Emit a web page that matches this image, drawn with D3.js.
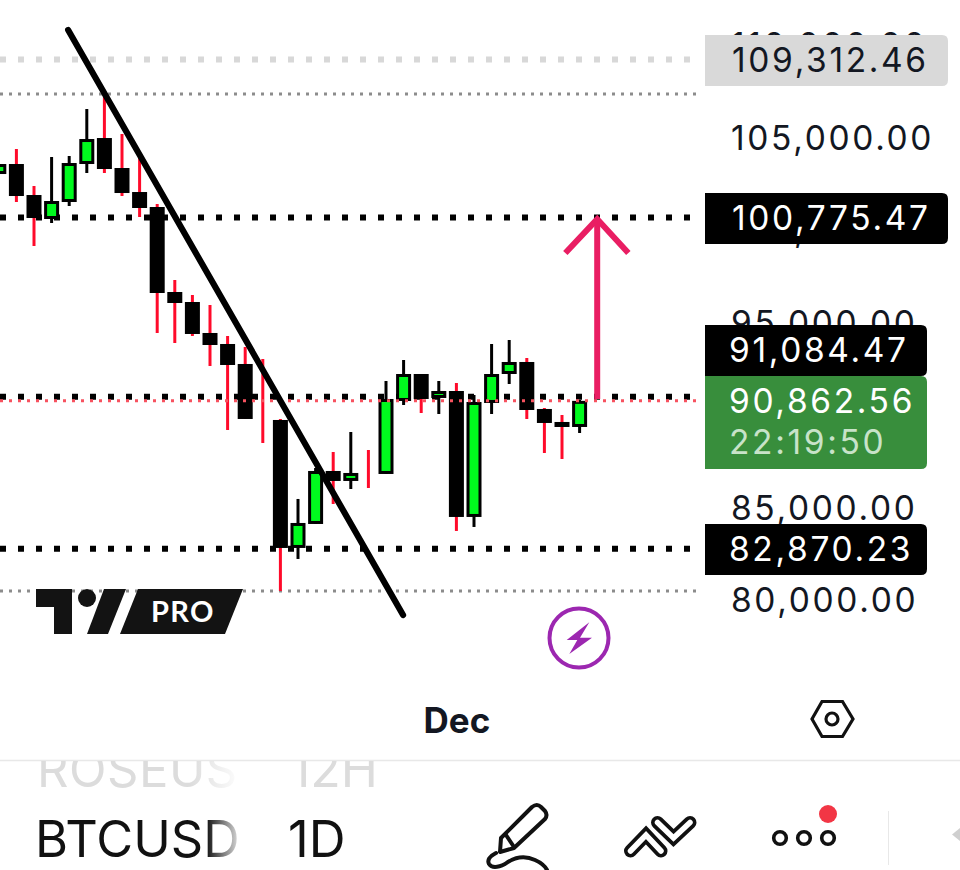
<!DOCTYPE html>
<html>
<head>
<meta charset="utf-8">
<script src="https://cdn.jsdelivr.net/npm/d3@7/dist/d3.min.js"></script>
<style>
html,body{margin:0;padding:0;background:#fff;overflow:hidden}
svg{display:block}
</style>
</head>
<body>
<svg id="c" width="960" height="870"></svg>
<script>
// ---- data ----
const candleIndex = [-1,0,1,2,3,4,5,6,7,8,9,10,11,12,13,14,15,16,17,18,19,20,21,22,23,24,25,26,27,28,29,30,31,32];
const opens  = [103126,103667,101991,100694,101613,103667,105072,103451,102153,101343,96748,96207,94532,93937,92856,89937,89829,82910,84207,87072,86532,87018,86910,90856,92315,91018,91396,84586,90748,92315,92964,90424,89721,89450];
const closes = [103667,101937,100748,101667,103721,105018,103397,102099,101289,96694,96153,94478,93883,92802,89883,89775,82910,84261,87072,86532,86964,86856,90964,92315,90964,91396,84586,90802,92315,92964,90369,89667,89450,90862.56];
const highs  = [103667,104478,102478,104045,104099,106640,107451,105289,104045,101505,97397,96586,96045,94370,93775,93126,89883,85559,87234,88099,89180,88207,91937,93072,92315,91937,91829,91180,93937,94153,93180,90478,90099,90910];
const lows   = [103126,101613,99234,100478,101397,103180,103180,101937,100802,94532,93991,94370,92748,89288,89883,88586,80586,82315,84207,85288,86099,86153,86910,90640,90207,90153,83829,84045,90153,91775,89883,88045,87721,89126];

const axisTicks = [110000,105000,100000,95000,90000,85000,80000];
const monthTicks = [25];
const monthLabels = ["Dec"];

const heavyLevels = [100775.47,91084.47,82870.23];
const faintLevel = 109312.46;
const extremeLevels = [107451,80586];
const lastPrice = 90862.56;
const countdown = "22:19:50";

const trendIndex = [2.94,21.97];
const trendPrice = [110910,79288];
const arrowIndex = [33,33];
const arrowPrice = [90964,100690];
const arrowHeadIndex = [31.19,33,34.77];
const arrowHeadPrice = [98855,100690,98855];

// ---- scales ----
const x = d3.scaleLinear().domain([0,32]).range([16.4,579.6]);
const y = d3.scaleLinear().domain([100775.47,82870.23]).range([217.5,548.7]);
const plotRight = 696;

const BLACK="#000", GREEN="#00fa1e", RED="#ff0a2a", INK="#131722", PINK="#e91e63";
const svg = d3.select("#c");
const defs = svg.append("defs");
function fade(id,x1,x2,color){
  const g=defs.append("linearGradient").attr("id",id).attr("gradientUnits","userSpaceOnUse")
    .attr("x1",x1).attr("x2",x2).attr("y1",0).attr("y2",0);
  g.append("stop").attr("offset",0).attr("stop-color",color).attr("stop-opacity",1);
  g.append("stop").attr("offset",1).attr("stop-color",color).attr("stop-opacity",0.12);
}
fade("fBtc",206,240,"#111");
fade("fRose",190,236,"#dcdcdc");
svg.append("clipPath").attr("id","cRose").append("rect").attr("x",0).attr("y",761).attr("width",960).attr("height",40);

function level(p,color,w,dash,right){
  svg.append("line").attr("x1",0).attr("x2",right||plotRight).attr("y1",y(p)).attr("y2",y(p))
    .attr("stroke",color).attr("stroke-width",w).attr("stroke-dasharray",dash);
}
level(faintLevel,"#d8d8d8",6,"6 12");
extremeLevels.forEach(p=>level(p,"#8c8c8c",3,"3 6"));
heavyLevels.forEach(p=>level(p,"#000",6,"6 12"));

// ---- candles ----
const hw=7.5, sw=3;
const candles = candleIndex.map((d,i)=>({i:d,o:opens[i],c:closes[i],h:highs[i],l:lows[i]}));
svg.append("g").selectAll("line").data(candles).join("line")
  .attr("x1",d=>x(d.i)).attr("x2",d=>x(d.i))
  .attr("y1",d=>y(d.h)).attr("y2",d=>y(d.l))
  .attr("stroke",d=>d.c>=d.o?BLACK:RED).attr("stroke-width",3);
svg.append("g").selectAll("rect").data(candles).join("rect")
  .attr("x",d=>x(d.i)-hw+sw/2).attr("width",2*hw-sw)
  .attr("y",d=>y(Math.max(d.o,d.c))+sw/2)
  .attr("height",d=>Math.max(0,y(Math.min(d.o,d.c))-y(Math.max(d.o,d.c))-sw))
  .attr("fill",d=>d.c>=d.o?GREEN:BLACK)
  .attr("stroke",BLACK).attr("stroke-width",sw);

level(lastPrice,"#f7525f",3,"3 6");

// ---- drawings ----
svg.append("line")
  .attr("x1",x(trendIndex[0])).attr("y1",y(trendPrice[0]))
  .attr("x2",x(trendIndex[1])).attr("y2",y(trendPrice[1]))
  .attr("stroke","#000").attr("stroke-width",6.2).attr("stroke-linecap","round");
svg.append("line")
  .attr("x1",x(arrowIndex[0])).attr("y1",y(arrowPrice[0]))
  .attr("x2",x(arrowIndex[1])).attr("y2",y(arrowPrice[1]))
  .attr("stroke",PINK).attr("stroke-width",6);
svg.append("path")
  .attr("d",d3.line().x(d=>x(d[0])).y(d=>y(d[1]))(arrowHeadIndex.map((v,i)=>[v,arrowHeadPrice[i]])))
  .attr("fill","none").attr("stroke",PINK).attr("stroke-width",6);

// ---- price axis ----
const fmt=d3.format(",.2f");
const FONT="Inter, 'Noto Sans', sans-serif";
const LS=2.65;
const axis = svg.append("g").attr("transform","translate(731,-2)")
  .call(d3.axisRight(y).tickValues(axisTicks).tickSize(0).tickPadding(0).tickFormat(fmt));
axis.select(".domain").remove();
axis.selectAll("text").attr("x",0).attr("fill",INK).attr("font-family",FONT).attr("font-size",33.5).attr("font-weight",400).attr("dy","0.36em").attr("letter-spacing",LS);

function tag(x0,x1,y0,y1,fill){
  const r=6;
  svg.append("path").attr("fill",fill)
    .attr("d",`M${x0},${y0}H${x1-r}Q${x1},${y0} ${x1},${y0+r}V${y1-r}Q${x1},${y1} ${x1-r},${y1}H${x0}Z`);
}
function label(t,xp,yp,color){
  svg.append("text").attr("x",xp).attr("y",yp).attr("dy","0.36em").text(t).attr("fill",color)
    .attr("font-family",FONT).attr("font-size",33.5).attr("letter-spacing",LS);
}
tag(705,948,35,86,"#d9d9d9");
label(fmt(faintLevel),732,60,INK);
tag(705,948,193,244,"#000");
label(fmt(heavyLevels[0]),732,218,"#fff");
tag(705,927,325,376,"#000");
label(fmt(heavyLevels[1]),729,350,"#fff");
tag(705,927,376,469,"#388e3c");
label(fmt(lastPrice),729,401,"#fff");
label(countdown,729,442,"#c8e3c9");
tag(705,927,524,575,"#000");
label(fmt(heavyLevels[2]),729,549,"#fff");

// ---- time axis ----
const timeAxis = svg.append("g").attr("transform","translate(0,703)")
  .call(d3.axisBottom(x).tickValues(monthTicks).tickSize(0).tickPadding(0).tickFormat((d,i)=>monthLabels[i]));
timeAxis.select(".domain").remove();
timeAxis.selectAll("text").attr("y",0).attr("dy","0.85em").attr("fill",INK).attr("font-family",FONT).attr("font-size",35).attr("font-weight",700);

// ---- logo ----
const logo = svg.append("g").attr("fill","#131313");
logo.append("path").attr("d","M36,589H72V634H54V607H36Z");
logo.append("circle").attr("cx",87).attr("cy",598).attr("r",9);
logo.append("path").attr("d","M104,589H126L108,634H87Z");
logo.append("path").attr("d","M138,589H243L225,634H120Z");
svg.append("text").attr("x",151).attr("y",622).text("PRO").attr("fill","#fff")
  .attr("font-family","Lato, sans-serif").attr("font-weight",700).attr("font-size",29).attr("letter-spacing",1.4);

// ---- alert badge ----
svg.append("circle").attr("cx",579).attr("cy",638).attr("r",29.5).attr("fill","none").attr("stroke","#9c27b0").attr("stroke-width",4);
svg.append("path").attr("fill","#9c27b0").attr("d","M589.3,622.3L566.7,640H577.3L569.3,654L592,637.7H580Z");

// ---- settings hex ----
svg.append("path").attr("fill","none").attr("stroke","#111").attr("stroke-width",3.2).attr("d","M812,719L822,701.5H842.5L853,719L842.5,736.5H822Z");
svg.append("circle").attr("cx",832).attr("cy",719).attr("r",6).attr("fill","none").attr("stroke","#111").attr("stroke-width",3.2);

// ---- toolbar ----
svg.append("line").attr("x1",0).attr("x2",960).attr("y1",760.5).attr("y2",760.5).attr("stroke","#e8e8e8").attr("stroke-width",1.5);
const TB="Inter, 'Liberation Sans', sans-serif";
svg.append("g").attr("clip-path","url(#cRose)").call(g=>{
  g.append("text").attr("x",37).attr("y",787).text("ROSEUS").attr("fill","url(#fRose)").attr("font-family",TB).attr("font-size",49).attr("letter-spacing",0.5);
  g.append("text").attr("x",290).attr("y",787).text("12H").attr("fill","#dcdcdc").attr("font-family",TB).attr("font-size",50);
});
svg.append("text").attr("x",35).attr("y",857).text("BTCUSD").attr("fill","url(#fBtc)").attr("font-family",TB).attr("font-size",50.5);
svg.append("text").attr("x",288).attr("y",857).text("1D").attr("fill","#111").attr("font-family",TB).attr("font-size",51);

const ic = svg.append("g").attr("fill","none").attr("stroke","#111").attr("stroke-width",4).attr("stroke-linecap","round").attr("stroke-linejoin","round");
ic.append("path").attr("d","M501,838L532,807Q537,803 541,807L545,811Q548,815 545,819L514,848L500,852Z");
ic.append("path").attr("d","M506,835L514,847");
ic.append("path").attr("d","M496,853Q486,858 489,864Q493,870 505,864Q520,853 535,860Q544,864 547,870");
const chev=["M630.5,851L646,835L661,851","M657.5,822.5L673.5,838L690,822.5"];
chev.forEach(d=>{
  svg.append("path").attr("d",d).attr("fill","none").attr("stroke","#111").attr("stroke-width",13).attr("stroke-linecap","round");
  svg.append("path").attr("d",d).attr("fill","none").attr("stroke","#fff").attr("stroke-width",5.5).attr("stroke-linecap","round");
});
[780,804,828].forEach(cx=>svg.append("circle").attr("cx",cx).attr("cy",838).attr("r",6.3).attr("fill","none").attr("stroke","#111").attr("stroke-width",3.6));
svg.append("circle").attr("cx",828).attr("cy",814).attr("r",9).attr("fill","#f23645");
svg.append("line").attr("x1",888.5).attr("x2",888.5).attr("y1",811).attr("y2",865).attr("stroke","#e8e8e8");
svg.append("path").attr("d","M952,834.5L960,828V841Z").attr("fill","#cfcfcf");
</script>
</body>
</html>
